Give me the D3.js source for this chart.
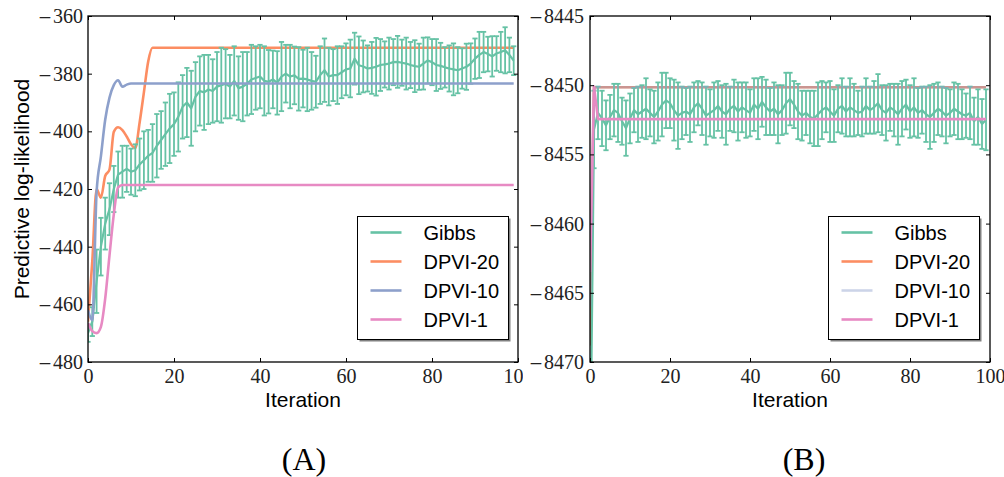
<!DOCTYPE html>
<html><head><meta charset="utf-8">
<script src="https://cdn.jsdelivr.net/npm/d3@7"></script>
<style>body{margin:0;background:#fff}svg{display:block}</style>
</head><body><svg id="c" width="1004" height="477"></svg>
<script>
// ---------------- DATA ----------------
const iterations = d3.range(100);
const seriesNames = ["Gibbs", "DPVI-20", "DPVI-10", "DPVI-1"];
const xTicks = [0, 20, 40, 60, 80, 100];
const yTicksA = [-480, -460, -440, -420, -400, -380, -360];
const yTicksB = [-8470, -8465, -8460, -8455, -8450, -8445];
const panelLabels = ["(A)", "(B)"];
const xAxisLabel = "Iteration";
const yAxisLabel = "Predictive log-likelihood";

const gibbsMeanA = [
 -470, -466, -452, -440, -432, -427, -420, -415, -414, -413,
 -414, -413.5, -411.5, -410, -408.5, -407.5, -405, -403, -401, -399,
 -397.5, -395, -391.5, -390, -392, -388, -386, -386.5, -385.5, -386,
 -384.5, -384, -383.5, -384.5, -382.5, -385, -384.5, -383.5, -382, -381.5,
 -381, -382.5, -382.8, -382, -383.2, -381, -380, -381, -380.6, -381.8,
 -381.7, -382, -382.5, -382.8, -380.5, -378.8, -381, -380.5, -380.5, -379.5,
 -378.5, -378.2, -374.8, -377.1, -377.5, -378.2, -378, -377.6, -377, -376.8,
 -376.5, -376, -375.9, -376.2, -376.5, -377, -377.4, -377.6, -376.5, -375.4,
 -376, -377, -377.3, -377.8, -378.2, -378.5, -378.8, -378.2, -377.6, -376.5,
 -374.8, -373.5, -372.5, -373.2, -374, -373, -372.5, -371.9, -373.5, -375.5
];
const gibbsErrA = [
 3, 5, 11, 10, 9, 9, 8, 8, 9, 8,
 8, 9, 9, 10, 9, 10, 11, 10, 11, 12,
 11, 12, 11, 12, 13, 12, 12, 13, 12, 11,
 12, 13, 12, 11, 12, 11, 12, 11, 12, 11,
 11, 12, 11, 10, 11, 12, 10, 11, 10, 11,
 10, 11, 10, 9, 10, 11, 10, 9, 10, 9,
 9, 10, 9, 10, 9, 8, 9, 10, 9, 8,
 9, 8, 9, 8, 9, 8, 9, 8, 9, 8,
 8, 9, 8, 7, 8, 9, 8, 7, 8, 7,
 7, 8, 7, 6, 7, 6, 7, 8, 6, 5
];
const dpvi20A = [
 -466, -445, -420, -423, -415.5, -413.3, -400.2, -398.6, -399.6, -401.8,
 -404.5, -405.8, -397, -386.5, -375.8, -371, -371, -371, -371, -371,
 -371, -371, -371, -371, -371, -371, -371, -371, -371, -371,
 -371, -371, -371, -371, -371, -371, -371, -371, -371, -371,
 -371, -371, -371, -371, -371, -371, -371, -371, -371, -371,
 -371, -371, -371, -371, -371, -371, -371, -371, -371, -371,
 -371, -371, -371, -371, -371, -371, -371, -371, -371, -371,
 -371, -371, -371, -371, -371, -371, -371, -371, -371, -371,
 -371, -371, -371, -371, -371, -371, -371, -371, -371, -371,
 -371, -371, -371, -371, -371, -371, -371, -371, -371, -371
];
const dpvi10A = [
 -462, -465.5, -421, -408.7, -396, -388.3, -384, -382.3, -384.5, -383.8,
 -383.4, -383.4, -383.4, -383.4, -383.4, -383.4, -383.4, -383.4, -383.4, -383.4,
 -383.4, -383.4, -383.4, -383.4, -383.4, -383.4, -383.4, -383.4, -383.4, -383.4,
 -383.4, -383.4, -383.4, -383.4, -383.4, -383.4, -383.4, -383.4, -383.4, -383.4,
 -383.4, -383.4, -383.4, -383.4, -383.4, -383.4, -383.4, -383.4, -383.4, -383.4,
 -383.4, -383.4, -383.4, -383.4, -383.4, -383.4, -383.4, -383.4, -383.4, -383.4,
 -383.4, -383.4, -383.4, -383.4, -383.4, -383.4, -383.4, -383.4, -383.4, -383.4,
 -383.4, -383.4, -383.4, -383.4, -383.4, -383.4, -383.4, -383.4, -383.4, -383.4,
 -383.4, -383.4, -383.4, -383.4, -383.4, -383.4, -383.4, -383.4, -383.4, -383.4,
 -383.4, -383.4, -383.4, -383.4, -383.4, -383.4, -383.4, -383.4, -383.4, -383.4
];
const dpvi1A = [
 -466.5, -469.3, -470, -467.8, -458, -443, -428.8, -419.4, -418.6, -418.6,
 -418.6, -418.6, -418.6, -418.6, -418.6, -418.6, -418.6, -418.6, -418.6, -418.6,
 -418.6, -418.6, -418.6, -418.6, -418.6, -418.6, -418.6, -418.6, -418.6, -418.6,
 -418.6, -418.6, -418.6, -418.6, -418.6, -418.6, -418.6, -418.6, -418.6, -418.6,
 -418.6, -418.6, -418.6, -418.6, -418.6, -418.6, -418.6, -418.6, -418.6, -418.6,
 -418.6, -418.6, -418.6, -418.6, -418.6, -418.6, -418.6, -418.6, -418.6, -418.6,
 -418.6, -418.6, -418.6, -418.6, -418.6, -418.6, -418.6, -418.6, -418.6, -418.6,
 -418.6, -418.6, -418.6, -418.6, -418.6, -418.6, -418.6, -418.6, -418.6, -418.6,
 -418.6, -418.6, -418.6, -418.6, -418.6, -418.6, -418.6, -418.6, -418.6, -418.6,
 -418.6, -418.6, -418.6, -418.6, -418.6, -418.6, -418.6, -418.6, -418.6, -418.6
];

const gibbsMeanB = [
 -8480, -8453.2, -8452.0, -8452.4, -8452.9, -8452.3, -8451.8, -8452.0, -8452.6, -8453.1,
 -8452.4, -8451.8, -8452.1, -8451.9, -8451.7, -8452.0, -8452.3, -8451.9, -8451.4, -8451.1,
 -8451.3, -8451.8, -8452.2, -8452.0, -8451.9, -8452.1, -8451.6, -8451.3, -8451.7, -8452.2,
 -8452.0, -8451.8, -8451.5, -8451.9, -8452.1, -8451.7, -8451.5, -8451.9, -8451.6, -8451.8,
 -8452.0, -8451.4, -8451.7, -8451.2, -8451.6, -8451.9, -8451.7, -8452.1, -8451.8, -8451.3,
 -8451.0, -8451.4, -8451.9, -8452.2, -8452.0, -8452.3, -8452.4, -8452.1, -8451.8, -8451.6,
 -8451.9, -8452.2, -8451.7, -8451.5, -8451.9, -8451.6, -8451.8, -8452.0, -8451.9, -8451.5,
 -8451.8, -8451.6, -8451.3, -8451.8, -8452.0, -8451.6, -8451.8, -8452.1, -8451.7, -8451.4,
 -8451.9, -8451.6, -8452.0, -8451.8, -8452.1, -8452.3, -8452.0, -8451.7, -8451.9, -8452.2,
 -8452.0, -8451.7, -8451.9, -8452.1, -8452.2, -8452.0, -8452.6, -8452.3, -8452.8, -8452.5
];
const gibbsErrB = [
 0, 2.8, 1.9, 2.0, 1.8, 1.6, 1.9, 2.1, 1.7, 2.0,
 1.8, 1.6, 2.0, 1.9, 2.2, 1.7, 1.9, 2.1, 2.3, 2.0,
 1.8, 2.2, 2.4, 1.9, 1.7, 2.0, 1.8, 1.6, 1.9, 2.1,
 1.7, 2.0, 1.8, 1.9, 2.2, 1.6, 1.9, 2.1, 1.8, 2.0,
 1.7, 1.9, 2.2, 1.8, 2.0, 1.7, 1.9, 2.1, 1.8, 2.2,
 1.9, 1.7, 2.0, 1.8, 1.6, 1.9, 2.0, 2.3, 2.1, 1.8,
 2.2, 1.9, 1.7, 2.0, 1.8, 2.1, 1.9, 1.6, 1.8, 2.0,
 1.7, 1.9, 2.1, 1.8, 2.0, 1.7, 1.9, 2.2, 2.0, 1.8,
 1.9, 2.1, 1.8, 1.7, 2.0, 2.3, 2.1, 1.9, 1.8, 2.0,
 1.7, 1.9, 2.0, 1.8, 1.6, 1.9, 1.7, 2.0, 1.8, 2.2
];
const dpvi20B = [
 -8468.8, -8450.15, -8450.15, -8450.15, -8450.15, -8450.15, -8450.15, -8450.15, -8450.15, -8450.15,
 -8450.15, -8450.15, -8450.15, -8450.15, -8450.15, -8450.15, -8450.15, -8450.15, -8450.15, -8450.15,
 -8450.15, -8450.15, -8450.15, -8450.15, -8450.15, -8450.15, -8450.15, -8450.15, -8450.15, -8450.15,
 -8450.15, -8450.15, -8450.15, -8450.15, -8450.15, -8450.15, -8450.15, -8450.15, -8450.15, -8450.15,
 -8450.15, -8450.15, -8450.15, -8450.15, -8450.15, -8450.15, -8450.15, -8450.15, -8450.15, -8450.15,
 -8450.15, -8450.15, -8450.15, -8450.15, -8450.15, -8450.15, -8450.15, -8450.15, -8450.15, -8450.15,
 -8450.15, -8450.15, -8450.15, -8450.15, -8450.15, -8450.15, -8450.15, -8450.15, -8450.15, -8450.15,
 -8450.15, -8450.15, -8450.15, -8450.15, -8450.15, -8450.15, -8450.15, -8450.15, -8450.15, -8450.15,
 -8450.15, -8450.15, -8450.15, -8450.15, -8450.15, -8450.15, -8450.15, -8450.15, -8450.15, -8450.15,
 -8450.15, -8450.15, -8450.15, -8450.15, -8450.15, -8450.15, -8450.15, -8450.15, -8450.15, -8450.15
];
const dpvi10B = [
 -8466, -8450.3, -8450.15, -8450.15, -8450.15, -8450.15, -8450.15, -8450.15, -8450.15, -8450.15,
 -8450.15, -8450.15, -8450.15, -8450.15, -8450.15, -8450.15, -8450.15, -8450.15, -8450.15, -8450.15,
 -8450.15, -8450.15, -8450.15, -8450.15, -8450.15, -8450.15, -8450.15, -8450.15, -8450.15, -8450.15,
 -8450.15, -8450.15, -8450.15, -8450.15, -8450.15, -8450.15, -8450.15, -8450.15, -8450.15, -8450.15,
 -8450.15, -8450.15, -8450.15, -8450.15, -8450.15, -8450.15, -8450.15, -8450.15, -8450.15, -8450.15,
 -8450.15, -8450.15, -8450.15, -8450.15, -8450.15, -8450.15, -8450.15, -8450.15, -8450.15, -8450.15,
 -8450.15, -8450.15, -8450.15, -8450.15, -8450.15, -8450.15, -8450.15, -8450.15, -8450.15, -8450.15,
 -8450.15, -8450.15, -8450.15, -8450.15, -8450.15, -8450.15, -8450.15, -8450.15, -8450.15, -8450.15,
 -8450.15, -8450.15, -8450.15, -8450.15, -8450.15, -8450.15, -8450.15, -8450.15, -8450.15, -8450.15,
 -8450.15, -8450.15, -8450.15, -8450.15, -8450.15, -8450.15, -8450.15, -8450.15, -8450.15, -8450.15
];
const dpvi1B = [
 -8463.5, -8450.1, -8452.45, -8452.45, -8452.45, -8452.45, -8452.45, -8452.45, -8452.45, -8452.45,
 -8452.45, -8452.45, -8452.45, -8452.45, -8452.45, -8452.45, -8452.45, -8452.45, -8452.45, -8452.45,
 -8452.45, -8452.45, -8452.45, -8452.45, -8452.45, -8452.45, -8452.45, -8452.45, -8452.45, -8452.45,
 -8452.45, -8452.45, -8452.45, -8452.45, -8452.45, -8452.45, -8452.45, -8452.45, -8452.45, -8452.45,
 -8452.45, -8452.45, -8452.45, -8452.45, -8452.45, -8452.45, -8452.45, -8452.45, -8452.45, -8452.45,
 -8452.45, -8452.45, -8452.45, -8452.45, -8452.45, -8452.45, -8452.45, -8452.45, -8452.45, -8452.45,
 -8452.45, -8452.45, -8452.45, -8452.45, -8452.45, -8452.45, -8452.45, -8452.45, -8452.45, -8452.45,
 -8452.45, -8452.45, -8452.45, -8452.45, -8452.45, -8452.45, -8452.45, -8452.45, -8452.45, -8452.45,
 -8452.45, -8452.45, -8452.45, -8452.45, -8452.45, -8452.45, -8452.45, -8452.45, -8452.45, -8452.45,
 -8452.45, -8452.45, -8452.45, -8452.45, -8452.45, -8452.45, -8452.45, -8452.45, -8452.45, -8452.45
];

// ---------------- STYLE ----------------
const colors = {"Gibbs": "#66c2a5", "DPVI-20": "#fc8d62", "DPVI-10": "#8da0cb", "DPVI-1": "#e78ac3"};
const serif = "'Liberation Serif', 'DejaVu Serif', serif";
const sans = "'Liberation Sans', Arial, sans-serif";
const tickFmt = d => (d < 0 ? "\u2212" : "") + Math.abs(d);

const svg = d3.select("#c");

// split the minus sign into its own wider-glyph tspan (TeX-like long minus)
function texMinus(sel) {
  sel.selectAll(".tick text").each(function() {
    const t = d3.select(this);
    const s = t.text();
    if (s.startsWith("\u2212")) {
      t.text("");
      t.append("tspan").attr("font-family", "'DejaVu Serif', serif").attr("font-size", 17).text("\u2212");
      t.append("tspan").attr("dx", 1).text(s.slice(1));
    }
  });
}

function drawPanel(cfg) {
  const g = svg.append("g");
  const clipId = "clip" + cfg.id;
  const outerId = "outer" + cfg.id;
  const defs = svg.append("defs");
  defs.append("clipPath").attr("id", clipId).append("rect")
    .attr("x", cfg.left).attr("y", cfg.top)
    .attr("width", cfg.right - cfg.left).attr("height", cfg.bottom - cfg.top);
  defs.append("clipPath").attr("id", outerId).append("rect")
    .attr("x", cfg.clipX0).attr("y", 0).attr("width", cfg.clipX1 - cfg.clipX0).attr("height", 440);
  g.attr("clip-path", `url(#${outerId})`);

  const x = d3.scaleLinear().domain([0, 100]).range([cfg.left, cfg.right]);
  const y = d3.scaleLinear().domain(cfg.yDomain).range([cfg.bottom, cfg.top]);

  const plot = g.append("g").attr("clip-path", `url(#${clipId})`);
  const smooth = d3.line().x((d, i) => x(iterations[i])).y(d => y(d)).curve(cfg.curve);
  const straight = d3.line().x((d, i) => x(iterations[i])).y(d => y(d));

  const drawLine = (arr, name, opacity) => plot.append("path").datum(arr)
    .attr("d", smooth).attr("fill", "none").attr("stroke", colors[name])
    .attr("stroke-width", 2.6).attr("stroke-opacity", opacity || 1)
    .attr("stroke-linejoin", "round");

  drawLine(cfg.dpvi20, "DPVI-20");

  // Gibbs error bars
  const eb = plot.append("g").attr("stroke", colors["Gibbs"]).attr("stroke-width", 1.8);
  iterations.forEach((it, i) => {
    const m = cfg.gMean[i], e = cfg.gErr[i];
    if (e <= 0) return;
    const xx = x(it), y0 = y(m - e), y1 = y(m + e);
    eb.append("line").attr("x1", xx).attr("x2", xx).attr("y1", y0).attr("y2", y1);
    eb.append("line").attr("x1", xx - 2.6).attr("x2", xx + 2.6).attr("y1", y0).attr("y2", y0);
    eb.append("line").attr("x1", xx - 2.6).attr("x2", xx + 2.6).attr("y1", y1).attr("y2", y1);
  });
  plot.append("path").datum(cfg.gMean).attr("d", straight).attr("fill", "none")
    .attr("stroke", colors["Gibbs"]).attr("stroke-width", 2.2).attr("stroke-linejoin", "round");

  drawLine(cfg.dpvi10, "DPVI-10", cfg.blueOpacity);
  drawLine(cfg.dpvi1, "DPVI-1");

  // axes (inward ticks)
  const styleAxis = sel => {
    sel.select(".domain").remove();
    sel.selectAll(".tick line").attr("stroke", "#000").attr("stroke-width", 1);
    sel.selectAll("text").attr("font-family", serif).attr("font-size", 20).attr("fill", "#222");
  };
  g.append("g").attr("transform", `translate(0,${cfg.bottom})`)
    .call(d3.axisBottom(x).tickValues(xTicks).tickSize(-4).tickPadding(7).tickFormat(tickFmt))
    .call(styleAxis);
  g.append("g").attr("transform", `translate(0,${cfg.top})`)
    .call(d3.axisTop(x).tickValues(xTicks).tickSize(-4).tickFormat(""))
    .call(styleAxis);
  g.append("g").attr("transform", `translate(${cfg.left},0)`)
    .call(d3.axisLeft(y).tickValues(cfg.yTicks).tickSize(-4).tickPadding(cfg.yPad).tickFormat(tickFmt))
    .call(styleAxis).call(texMinus);
  g.append("g").attr("transform", `translate(${cfg.right},0)`)
    .call(d3.axisRight(y).tickValues(cfg.yTicks).tickSize(-4).tickFormat(""))
    .call(styleAxis);

  g.append("rect").attr("x", cfg.left).attr("y", cfg.top)
    .attr("width", cfg.right - cfg.left).attr("height", cfg.bottom - cfg.top)
    .attr("fill", "none").attr("stroke", "#000").attr("stroke-width", 1.3);

  // x label
  g.append("text").attr("x", (cfg.left + cfg.right) / 2).attr("y", 407)
    .attr("text-anchor", "middle").attr("font-family", sans).attr("font-size", 21)
    .attr("fill", "#000").text(xAxisLabel);

  // legend
  const L = cfg.legend;
  g.append("rect").attr("x", L.x + 2).attr("y", L.y + 2).attr("width", L.w).attr("height", L.h)
    .attr("fill", "#808080");
  g.append("rect").attr("x", L.x).attr("y", L.y).attr("width", L.w).attr("height", L.h)
    .attr("fill", "#fff").attr("stroke", "#000").attr("stroke-width", 1);
  const legendOpacity = {"DPVI-10": cfg.blueOpacity || 1};
  seriesNames.forEach((name, i) => {
    const cy = L.y + 16 + i * 29;
    g.append("line").attr("x1", L.x + 13).attr("x2", L.x + 44).attr("y1", cy).attr("y2", cy)
      .attr("stroke", colors[name]).attr("stroke-width", 2.6)
      .attr("stroke-opacity", legendOpacity[name] || 1);
    g.append("text").attr("x", L.x + 66).attr("y", cy + 7.5)
      .attr("font-family", sans).attr("font-size", 20).attr("fill", "#000").text(name);
  });

  // panel label
  svg.append("text").attr("x", cfg.labelX).attr("y", 470).attr("text-anchor", "middle")
    .attr("font-family", serif).attr("font-size", 32).attr("fill", "#000").text(cfg.panelLabel);
  return g;
}

drawPanel({
  id: "A", left: 88, right: 518, top: 16, bottom: 362, yDomain: [-480, -360], yTicks: yTicksA, yPad: 5,
  gMean: gibbsMeanA, gErr: gibbsErrA, dpvi20: dpvi20A, dpvi10: dpvi10A, dpvi1: dpvi1A, blueOpacity: 1,
  curve: d3.curveMonotoneX,
  legend: {x: 357.5, y: 216.5, w: 151, h: 123}, clipX0: 0, clipX1: 523, labelX: 304, panelLabel: panelLabels[0]
});
drawPanel({
  id: "B", left: 590, right: 990, top: 16, bottom: 362, yDomain: [-8470, -8445], yTicks: yTicksB, yPad: 6,
  gMean: gibbsMeanB, gErr: gibbsErrB, dpvi20: dpvi20B, dpvi10: dpvi10B, dpvi1: dpvi1B, blueOpacity: 0.45,
  curve: d3.curveLinear,
  legend: {x: 828.5, y: 216.5, w: 151, h: 123}, clipX0: 524, clipX1: 1004, labelX: 804, panelLabel: panelLabels[1]
});

// y-axis label (panel A)
svg.append("text").attr("transform", "translate(29,189) rotate(-90)")
  .attr("text-anchor", "middle").attr("font-family", sans).attr("font-size", 21)
  .attr("fill", "#000").text(yAxisLabel);
</script>
</body></html>
